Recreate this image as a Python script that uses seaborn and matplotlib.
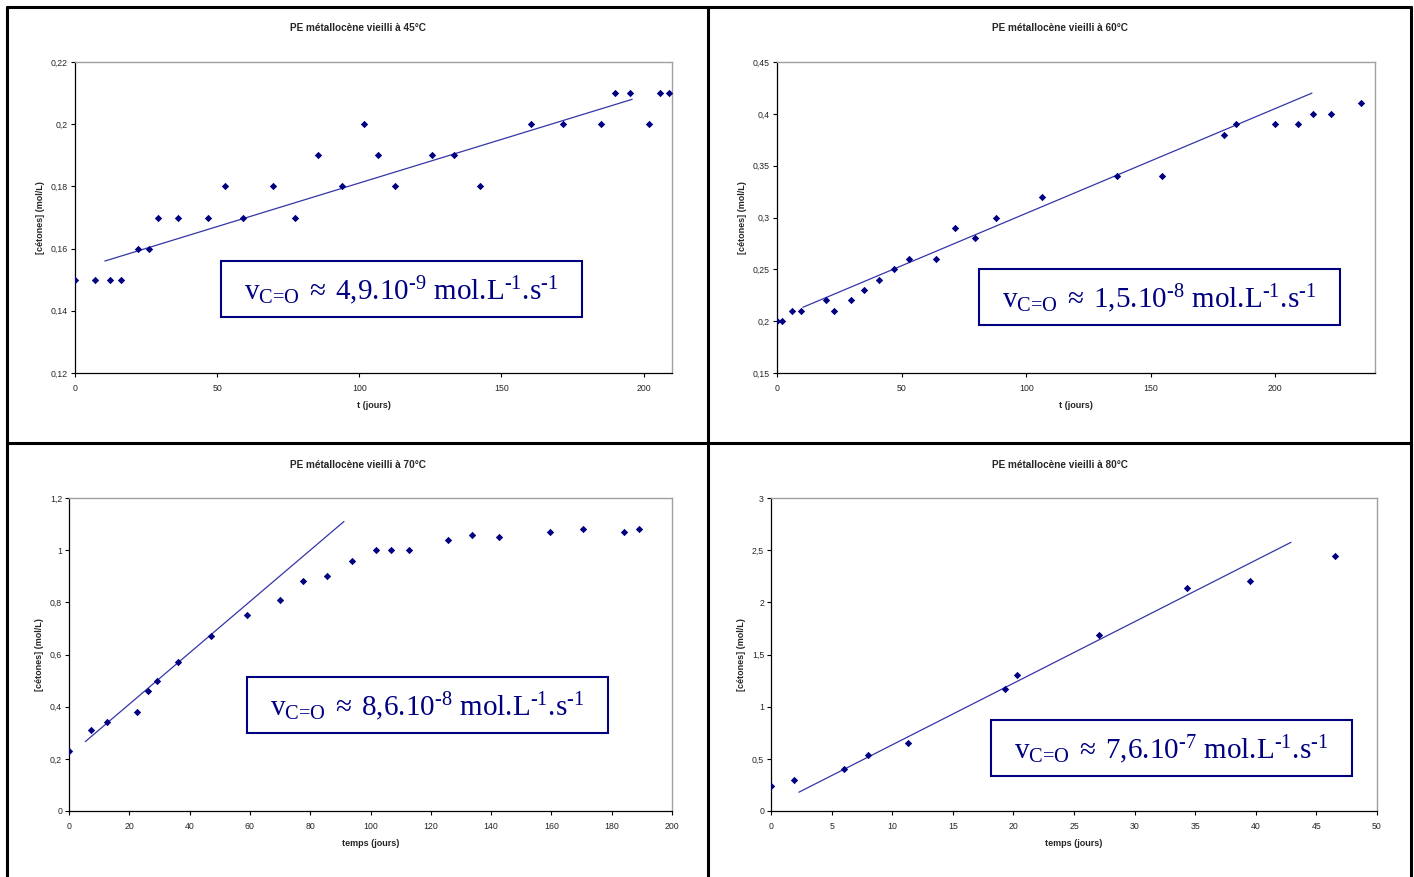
import numpy as np
import pandas as pd
import matplotlib.pyplot as plt
import matplotlib.ticker as mticker
from matplotlib.lines import Line2D
from matplotlib.patches import Rectangle
import seaborn as sns

# ---- data ----
# 45 C
t_45 = [0, 7.2, 12.3, 16.1, 22.3, 26.1, 29.2, 36.2, 46.9, 52.9, 59.0, 69.8, 77.5, 85.6,
        93.9, 101.8, 106.6, 112.5, 125.6, 133.2, 142.6, 160.5, 171.5, 185.2, 190.1,
        195.1, 201.9, 205.9, 209.1]
c_45 = [0.15, 0.15, 0.15, 0.15, 0.16, 0.16, 0.17, 0.17, 0.17, 0.18, 0.17, 0.18, 0.17, 0.19,
        0.18, 0.20, 0.19, 0.18, 0.19, 0.19, 0.18, 0.20, 0.20, 0.20, 0.21,
        0.21, 0.20, 0.21, 0.21]
fit_t_45 = [10.5, 196]
fit_c_45 = [0.156, 0.208]

# 60 C
t_60 = [0, 2.0, 6.2, 9.8, 19.8, 22.9, 29.8, 34.9, 40.8, 46.8, 52.8, 63.7, 71.3, 79.5,
        87.7, 106.5, 136.5, 154.5, 179.3, 184.3, 200, 209.1, 215.1, 222.2, 234.2]
c_60 = [0.20, 0.20, 0.21, 0.21, 0.22, 0.21, 0.22, 0.23, 0.24, 0.25, 0.26, 0.26, 0.29, 0.28,
        0.30, 0.32, 0.34, 0.34, 0.38, 0.39, 0.39, 0.39, 0.40, 0.40, 0.41]
fit_t_60 = [10.4, 214.7]
fit_c_60 = [0.2134, 0.420]

# 70 C
t_70 = [0, 7.35, 12.5, 22.4, 26.1, 29.1, 36.3, 47.0, 59.0, 69.9, 77.6, 85.7, 93.9, 101.7,
        106.8, 112.7, 125.6, 133.5, 142.7, 159.6, 170.6, 184.2, 189.2]
c_70 = [0.23, 0.31, 0.34, 0.38, 0.46, 0.50, 0.57, 0.67, 0.75, 0.81, 0.88, 0.90, 0.96, 1.00,
        1.00, 1.00, 1.04, 1.06, 1.05, 1.07, 1.08, 1.07, 1.08]
fit_t_70 = [5.4, 91.2]
fit_c_70 = [0.266, 1.11]

# 80 C
t_80 = [0, 1.9, 6.0, 8.0, 11.3, 19.3, 20.3, 27.1, 34.3, 39.5, 46.5]
c_80 = [0.24, 0.30, 0.40, 0.54, 0.65, 1.17, 1.30, 1.69, 2.14, 2.20, 2.44]
fit_t_80 = [2.3, 42.9]
fit_c_80 = [0.18, 2.575]

titles = ["PE métallocène vieilli à 45°C", "PE métallocène vieilli à 60°C",
          "PE métallocène vieilli à 70°C", "PE métallocène vieilli à 80°C"]
xlabels = ["t (jours)", "t (jours)", "temps (jours)", "temps (jours)"]
ylabel = "[cétones] (mol/L)"
rate_mant = ["4,9", "1,5", "8,6", "7,6"]
rate_exp = ["-9", "-8", "-8", "-7"]

sns.set_theme(style="white")
plt.rcParams["font.family"] = ["Liberation Sans", "DejaVu Sans"]
plt.rcParams["mathtext.fontset"] = "custom"
plt.rcParams["mathtext.rm"] = "Liberation Serif"
plt.rcParams["mathtext.it"] = "Liberation Serif:italic"

W, H = 1414, 877
fig = plt.figure(figsize=(W / 100, H / 100), dpi=100)
fig.patch.set_facecolor("white")

def px(x0, y0, x1, y1):
    return [x0 / W, 1 - y1 / H, (x1 - x0) / W, (y1 - y0) / H]

panels = [
    dict(t=t_45, c=c_45, ft=fit_t_45, fc=fit_c_45, pos=px(75, 62, 672, 373),
         xlim=(0, 210), xt=np.arange(0, 201, 50), ylim=(0.12, 0.22), yt=np.arange(0.12, 0.221, 0.02),
         tx=357.5, ty=28, box=(221, 261, 582, 317)),
    dict(t=t_60, c=c_60, ft=fit_t_60, fc=fit_c_60, pos=px(777, 62, 1375, 373),
         xlim=(0, 240), xt=np.arange(0, 201, 50), ylim=(0.15, 0.45), yt=np.arange(0.15, 0.451, 0.05),
         tx=1059.5, ty=28, box=(979, 269, 1340, 325)),
    dict(t=t_70, c=c_70, ft=fit_t_70, fc=fit_c_70, pos=px(69, 498, 672, 811),
         xlim=(0, 200), xt=np.arange(0, 201, 20), ylim=(0, 1.2), yt=np.arange(0, 1.21, 0.2),
         tx=357.5, ty=465, box=(247, 677, 608, 733)),
    dict(t=t_80, c=c_80, ft=fit_t_80, fc=fit_c_80, pos=px(771, 498, 1377, 811),
         xlim=(0, 50), xt=np.arange(0, 51, 5), ylim=(0, 3), yt=np.arange(0, 3.01, 0.5),
         tx=1059.5, ty=465, box=(991, 720, 1352, 776)),
]

navy = "#000080"
fmt = mticker.FuncFormatter(lambda v, p: ("%g" % round(v, 4)).replace(".", ","))

for i, p in enumerate(panels):
    ax = fig.add_axes(p["pos"])
    df = pd.DataFrame({"t": p["t"], "c": p["c"]})
    fit = pd.DataFrame({"t": p["ft"], "c": p["fc"]})
    sns.lineplot(data=fit, x="t", y="c", ax=ax, color="#3535A8", linewidth=0.9)
    sns.scatterplot(data=df, x="t", y="c", ax=ax, marker="D", s=14, color=navy,
                    linewidth=0, zorder=3)
    ax.set_xlim(*p["xlim"])
    ax.set_ylim(*p["ylim"])
    ax.set_xticks(p["xt"])
    ax.set_yticks(p["yt"])
    ax.xaxis.set_major_formatter(fmt)
    ax.yaxis.set_major_formatter(fmt)
    ax.tick_params(axis="both", direction="out", length=3, width=0.8, color="black",
                   labelsize=6.3, bottom=True, left=True)
    ax.tick_params(axis="x", pad=5)
    ax.tick_params(axis="y", pad=2)
    for s in ["left", "bottom"]:
        ax.spines[s].set_color("black")
        ax.spines[s].set_linewidth(0.9)
    for s in ["top", "right"]:
        ax.spines[s].set_color("#A0A0A0")
        ax.spines[s].set_linewidth(1.0)
    ax.set_xlabel(xlabels[i], fontsize=6.5, fontweight="bold", labelpad=6)
    ax.set_ylabel(ylabel, fontsize=6.5, fontweight="bold", labelpad=4)
    ax.grid(False)

    fig.text(p["tx"] / W, 1 - p["ty"] / H, titles[i], ha="center", va="center",
             fontsize=7.2, fontweight="bold")

    bx0, by0, bx1, by1 = p["box"]
    fig.add_artist(Rectangle((bx0 / W, 1 - by1 / H), (bx1 - bx0) / W, (by1 - by0) / H,
                             transform=fig.transFigure, fill=False, edgecolor=navy, linewidth=1.5))
    label = (r"$\text{v}_{\text{C=O}}\;\approx\;\text{" + rate_mant[i] + ".10}^{\\text{"
             + rate_exp[i] + r"}}\text{ mol.L}^{\text{-1}}\text{.s}^{\text{-1}}$")
    fig.text((bx0 + bx1) / 2 / W, 1 - ((by0 + by1) / 2 + 2) / H, label, ha="center", va="center",
             fontsize=21, color=navy)

# quadrant frame
lw = 2.2
for (x0, y0, x1, y1) in [(7, 7, 1411, 7), (7, 7, 7, 877), (708, 7, 708, 877),
                         (1411, 7, 1411, 877), (7, 443, 1411, 443)]:
    fig.add_artist(Line2D([x0 / W, x1 / W], [1 - y0 / H, 1 - y1 / H], transform=fig.transFigure,
                          color="black", linewidth=lw))

fig.savefig("out.png", dpi=100)
